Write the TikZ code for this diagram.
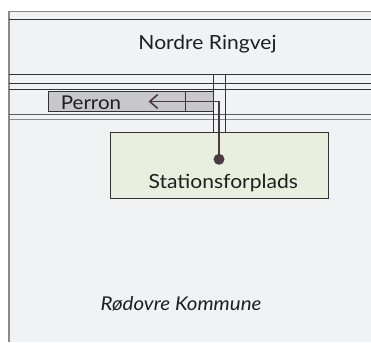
\documentclass[tikz,border=0pt]{standalone}
\usepackage{fontspec}
\setmainfont[FakeStretch=1.08]{Lato}
\usetikzlibrary{arrows.meta}
\definecolor{bg}{HTML}{F1F2F4}
\definecolor{dark}{HTML}{333333}
\definecolor{midgray}{HTML}{8A8A8A}
\definecolor{perronfill}{HTML}{C8C8CA}
\definecolor{stationfill}{HTML}{E8EFDF}
\definecolor{conn}{HTML}{4B3A3F}
\tikzset{
  road/.style={draw=dark, line width=0.9pt},
  roadthin/.style={draw=midgray, line width=0.9pt},
  boxA/.style={draw=dark, line width=1pt, fill=perronfill, minimum width=165pt, minimum height=20pt, inner sep=0pt},
  boxB/.style={draw=dark, line width=1.2pt, fill=stationfill, minimum width=218pt, minimum height=66pt, inner sep=0pt},
  connector/.style={draw=conn, line width=1.8pt},
  lbl/.style={text=black!88, inner sep=0pt, anchor=base}
}
\begin{document}
\begin{tikzpicture}[x=1pt,y=-1pt]
\useasboundingbox (0,0) rectangle (371,342);
\fill[bg] (9,11.5) rectangle (371,342);
% borders
\draw[midgray, line width=1.8pt] (9,11.5) -- (9,342);
\draw[midgray, line width=0.9pt] (9,11.5) -- (371,11.5);
\draw[dark, line width=1.6pt] (9,19.7) -- (371,19.7);
% road lines
\draw[road] (9,74.3) -- (371,74.3);
\draw[road] (9,83.3) -- (371,83.3);
\draw[road] (9,89) -- (371,89);
\draw[draw=dark!80, line width=1.2pt] (9,114.5) -- (371,114.5);
\draw[roadthin] (9,119.3) -- (371,119.3);
% vertical double lines
\draw[road] (213.3,74.3) -- (213.3,132.7);
\draw[road] (225,74.3) -- (225,132.7);
% perron
\node[boxA] (perron) at (130.5,101.5) {};
\node[lbl, font=\fontsize{19}{19}\selectfont] (perrontext) at (91,109.3) {Perron};
\draw[dark, line width=0.9pt] (185,91.5) -- (185,111.5);
% station box
\node[boxB] (station) at (219.2,165.8) {};
\node[lbl, font=\fontsize{19.5}{19.5}\selectfont] (stationtext) at (223.3,188.7) {Stationsforplads};
\node[circle, fill=conn, minimum size=11pt, inner sep=0pt] (dot) at (219,159.3) {};
\coordinate (bend) at (219,101.5);
\coordinate (tip) at (148.5,101.5);
\draw[connector, -{Straight Barb[length=8pt,width=14pt,line width=1.6pt]}] (dot.center) -- (bend) -- (tip);
% labels
\node[lbl, font=\fontsize{19.5}{19.5}\selectfont] (road) at (207.5,49.7) {Nordre Ringvej};
\node[lbl, font=\itshape\fontsize{19}{19}\selectfont] (kommune) at (181,310.5) {Rødovre Kommune};
\end{tikzpicture}
\end{document}
